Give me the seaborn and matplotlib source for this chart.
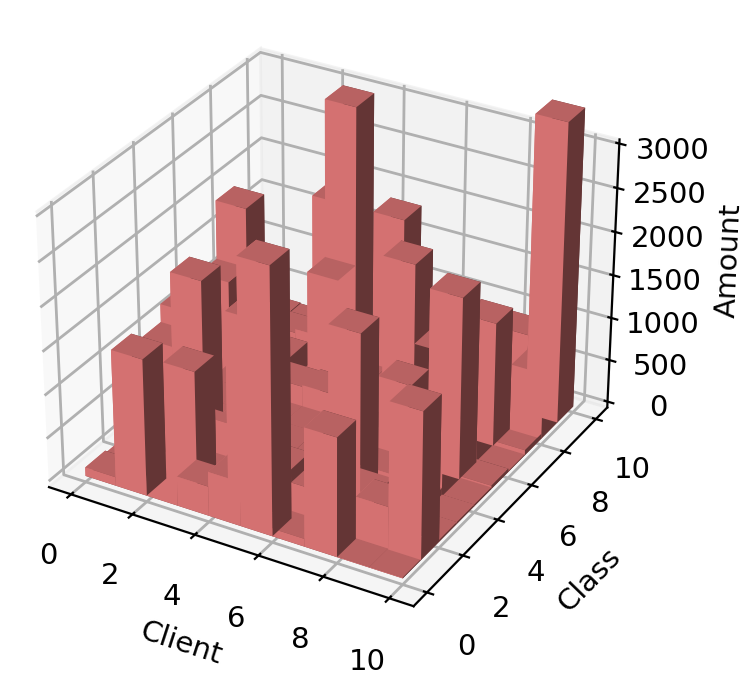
import numpy as np
import matplotlib
matplotlib.use("Agg")
import matplotlib.pyplot as plt
import seaborn as sns

clients = list(range(10))
classes = list(range(10))
# rows: class 0..9, columns: client 0..9
class_0 = [100, 1570, 320, 340, 510, 3020, 90, 1360, 10, 10]
class_1 = [70, 300, 1350, 220, 2140, 570, 420, 20, 490, 1680]
class_2 = [100, 300, 465, 610, 300, 250, 300, 300, 100, 20]
class_3 = [1050, 1910, 300, 300, 300, 300, 1840, 340, 100, 20]
class_4 = [1260, 300, 300, 300, 300, 300, 300, 1170, 700, 20]
class_5 = [300, 300, 300, 530, 550, 300, 120, 300, 2085, 40]
class_6 = [1260, 300, 580, 300, 300, 300, 2075, 1170, 300, 10]
class_7 = [1945, 300, 300, 1410, 300, 300, 300, 300, 1430, 60]
class_8 = [300, 400, 445, 3220, 300, 300, 300, 300, 300, 770]
class_9 = [300, 290, 1860, 300, 1865, 300, 300, 300, 930, 3445]
amounts = [class_0, class_1, class_2, class_3, class_4,
           class_5, class_6, class_7, class_8, class_9]
tick_xy = [0, 2, 4, 6, 8, 10]
tick_z = [0, 500, 1000, 1500, 2000, 2500, 3000]

W, H = 746, 675
plt.rcParams.update({
    "font.family": "DejaVu Sans",
    "grid.color": "#b0b0b0", "grid.linewidth": 1.0,
})
color = sns.color_palette(["lightcoral"])[0]
fig = plt.figure(figsize=(W / 200, H / 200), dpi=200)
ax = fig.add_axes([0.0, 0.022, 0.87, 1.0], projection="3d")
xx, yy = np.meshgrid(clients, classes)
z = np.array(amounts, dtype=float).ravel()
ax.bar3d(xx.ravel(), yy.ravel(), np.zeros_like(z), 1, 1, z, color=color, edgecolor="none", linewidth=0)
ax.set_zlim(-71, 3046)
ax.set_xlabel("Client", fontsize=10.5)
ax.set_ylabel("Class", fontsize=10.5)
ax.set_zlabel("Amount", fontsize=10.5, labelpad=5)
ax.set_xticks(tick_xy)
ax.set_yticks(tick_xy)
ax.set_zticks(tick_z)
ax.tick_params(labelsize=10.5)
ax.tick_params(axis="x", pad=4.5)
ax.tick_params(axis="y", pad=4.5)
for axis in (ax.xaxis, ax.yaxis, ax.zaxis):
    axis.pane.set_edgecolor("#e8e8e8")
fig.savefig("out.png", dpi=200)
